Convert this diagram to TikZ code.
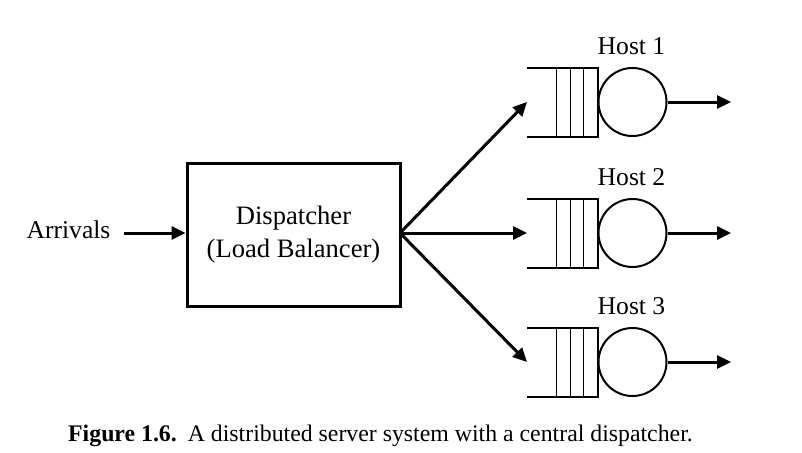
\documentclass[tikz,border=0pt]{standalone}
\usepackage{fontspec}
\setmainfont{Liberation Serif}
\usetikzlibrary{arrows.meta}
\tikzset{
  lbl/.style={font=\fontsize{25.6}{30}\selectfont, inner sep=0pt},
  arr/.style={line width=3pt, -{Triangle[length=14pt,width=13pt]}},
  server/.style={circle, draw, line width=2pt, minimum size=68pt, inner sep=0pt},
  qline/.style={line width=2pt},
  qthin/.style={line width=0.9pt},
}
\newcommand{\hostq}[3]{% #1 name, #2 center y, #3 label
  \coordinate (#1in) at (527,#2);
  \draw[qline] (527,#2-34.5) -- (598,#2-34.5) -- (598,#2+34.5) -- (527,#2+34.5);
  \foreach \xx in {556,570,583} \draw[qthin] (\xx,#2-34.5) -- (\xx,#2+34.5);
  \node[server] (#1) at (632.5,#2) {};
  \coordinate (#1out) at (731,#2);
  \draw[arr] (#1) -- (#1out);
  \node[lbl] (#1lbl) at (631.5,#2-56) {#3};
}
\begin{document}
\begin{tikzpicture}[x=1pt,y=-1pt]
\useasboundingbox (0,0) rectangle (802,452);
\node[draw, line width=3pt, minimum width=213pt, minimum height=143pt, inner sep=0pt,
  align=center, font=\fontsize{26.6}{33}\selectfont] (disp) at (293.5,234.5)
  {Dispatcher\\(Load Balancer)};
\node[lbl] (arrivals) at (68.5,230) {Arrivals};
\draw[arr] (124,233) -- (disp.west |- 0,233);
\hostq{h1}{102}{Host 1}
\hostq{h2}{233}{Host 2}
\hostq{h3}{362}{Host 3}
\coordinate (fan) at (400,233);
\draw[arr] (fan) -- (h1in);
\draw[arr] (fan) -- (h2in);
\draw[arr] (fan) -- (h3in);
\node[font=\fontsize{23.8}{28}\selectfont, anchor=base west, inner sep=0pt] (cap) at (68,441)
  {\textbf{Figure 1.6.}\hspace{11pt}A distributed server system with a central dispatcher.};
\end{tikzpicture}
\end{document}
